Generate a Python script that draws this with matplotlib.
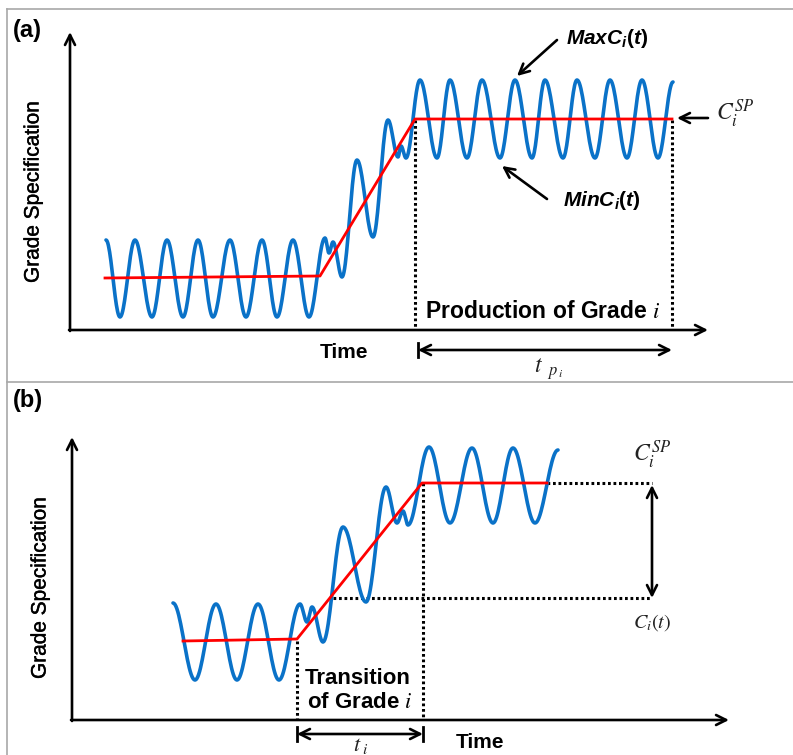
import numpy as np
import matplotlib.pyplot as plt
import matplotlib.patheffects as pe

plt.rcParams['font.family'] = ['Liberation Sans', 'DejaVu Sans']
plt.rcParams['mathtext.fontset'] = 'custom'
plt.rcParams['mathtext.it'] = 'Liberation Sans:italic:bold'
plt.rcParams['mathtext.rm'] = 'Liberation Sans:bold'
plt.rcParams['mathtext.bf'] = 'Liberation Sans:bold'

BLUE = '#0a72c8'
RED = '#ff0000'

# ---- panel (a): extrema of the measured grade (x, y in figure pixels)
wave_a_x = [106, 120, 135, 152, 167, 183, 198, 213, 230, 246, 262, 277, 293, 309,
            325, 329, 333, 342, 357, 373, 388, 398, 401, 406,
            420, 437, 450, 467, 482, 500, 515, 532, 545, 563, 577, 595, 610, 627,
            642, 658, 673]
wave_a_y = [240, 317, 240, 317, 240, 317, 240, 317, 240, 317, 240, 317, 240, 317,
            238, 253, 242, 277, 160, 237, 120, 157, 146, 158,
            80, 158, 80, 158, 80, 158, 80, 158, 80, 158, 80, 158, 80, 158,
            80, 158, 82]
setpoint_a_x = [105, 320, 415, 672]
setpoint_a_y = [278, 276, 119, 119]

# ---- panel (b)
wave_b_x = [173, 195, 216, 237, 258, 279, 300, 307, 312, 323, 343, 366, 386,
            397, 403, 408, 429, 450, 472, 493, 513, 535, 558]
wave_b_y = [603, 680, 604, 680, 604, 680, 604, 622, 607, 642, 527, 602, 487,
            523, 511, 525, 447, 523, 448, 523, 448, 523, 450]
setpoint_b_x = [183, 297, 422, 547]
setpoint_b_y = [641, 639, 483, 483]


def smooth(xs, ys, n=24):
    # half-cosine between successive extrema
    px, py = [], []
    for x0, x1, y0, y1 in zip(xs[:-1], xs[1:], ys[:-1], ys[1:]):
        t = np.linspace(0, 1, n)
        px.extend(x0 + (x1 - x0) * t)
        py.extend(y0 + (y1 - y0) * (1 - np.cos(np.pi * t)) / 2)
    return px, py


def arrow(ax, tail, tip, style='->', lw=1.9, ms=18):
    ax.annotate('', xy=tip, xytext=tail,
                arrowprops=dict(arrowstyle=style, lw=lw, color='k',
                                mutation_scale=ms, shrinkA=0, shrinkB=0))


fig = plt.figure(figsize=(7.93, 7.55), dpi=100)
ax = fig.add_axes([0, 0, 1, 1])
ax.set_xlim(0, 793)
ax.set_ylim(755, 0)
ax.axis('off')

# frames
ax.plot([7, 793], [9, 9], color='#a8a8a8', lw=1.2)
ax.plot([7, 793], [382, 382], color='#a8a8a8', lw=1.2)
ax.plot([7, 7], [9, 755], color='#a8a8a8', lw=1.2)

dot = dict(color='k', lw=2.2, linestyle=(0, (0.9, 0.9)))
heavy = [pe.withStroke(linewidth=0.3, foreground='k')]

# ===== panel (a)
ax.text(27, 30, '(a)', fontsize=17, fontweight='bold', ha='center', va='center')
arrow(ax, (70, 331), (70, 32))
arrow(ax, (69, 330), (708, 330))
ax.text(33, 192, 'Grade Specification', fontsize=15, rotation=90, ha='center',
        va='center', path_effects=heavy)
ax.text(344, 352, 'Time', fontsize=15, fontweight='bold', ha='center', va='center')

ax.plot([415, 415], [120, 330], **dot)
ax.plot([672, 672], [120, 330], **dot)

px, py = smooth(wave_a_x, wave_a_y)
ax.plot(px, py, color=BLUE, lw=2.6, solid_capstyle='round')
ax.plot(setpoint_a_x, setpoint_a_y, color=RED, lw=2.0)

ax.text(543, 312, r'Production of Grade $i$', fontsize=16.5, fontweight='bold',
        ha='center', va='center', math_fontfamily='stix')
arrow(ax, (418, 350), (672, 350), style='<->')
ax.plot([418, 418], [343, 357], color='k', lw=2.0)
ax.text(549, 369, r'$t_{\ \ p_{\,i}}$', fontsize=17, ha='center', va='center',
        math_fontfamily='stix', color='#222222')

ax.text(607, 38, r'$MaxC_{i}(t)$', fontsize=15, ha='center', va='center')
arrow(ax, (557, 40), (517, 76))
ax.text(602, 200, r'$MinC_{i}(t)$', fontsize=15, ha='center', va='center')
arrow(ax, (547, 199), (502, 166))
ax.text(735, 114, r'$C_{i}^{SP}$', fontsize=17, ha='center', va='center',
        math_fontfamily='stix', color='#222222')
arrow(ax, (708, 118), (677, 118))

# ===== panel (b)
ax.text(28, 400, '(b)', fontsize=17, fontweight='bold', ha='center', va='center')
arrow(ax, (72, 721), (72, 437))
arrow(ax, (71, 720), (729, 720))
ax.text(40, 588, 'Grade Specification', fontsize=15, rotation=90, ha='center',
        va='center', path_effects=heavy)
ax.text(480, 743, 'Time', fontsize=15, fontweight='bold', ha='center', va='center')

ax.plot([547, 652], [483, 483], **dot)
ax.plot([333, 652], [598, 598], **dot)
ax.plot([297, 297], [641, 720], **dot)
ax.plot([423, 423], [483, 720], **dot)

px, py = smooth(wave_b_x, wave_b_y)
ax.plot(px, py, color=BLUE, lw=2.6, solid_capstyle='round')
ax.plot(setpoint_b_x, setpoint_b_y, color=RED, lw=2.0)

arrow(ax, (652, 485), (652, 598), style='<->')
ax.text(652, 455, r'$C_{i}^{SP}$', fontsize=17, ha='center', va='center',
        math_fontfamily='stix', color='#222222')
ax.text(652, 623, r'$C_{i}(t)$', fontsize=14.5, ha='center', va='center',
        math_fontfamily='stix', color='#222222')

ax.text(305, 679, 'Transition', fontsize=16, fontweight='bold', ha='left', va='center')
ax.text(307, 702, r'of Grade $i$', fontsize=16, fontweight='bold', ha='left', va='center',
        math_fontfamily='stix')
arrow(ax, (297, 734), (423, 734), style='<->')
ax.plot([297, 297], [727, 741], color='k', lw=2.0)
ax.plot([423, 423], [727, 741], color='k', lw=2.0)
ax.text(361, 745, r'$t_{\ i}$', fontsize=16, ha='center', va='center',
        math_fontfamily='stix', color='#222222')

fig.savefig('out.png', dpi=100)
